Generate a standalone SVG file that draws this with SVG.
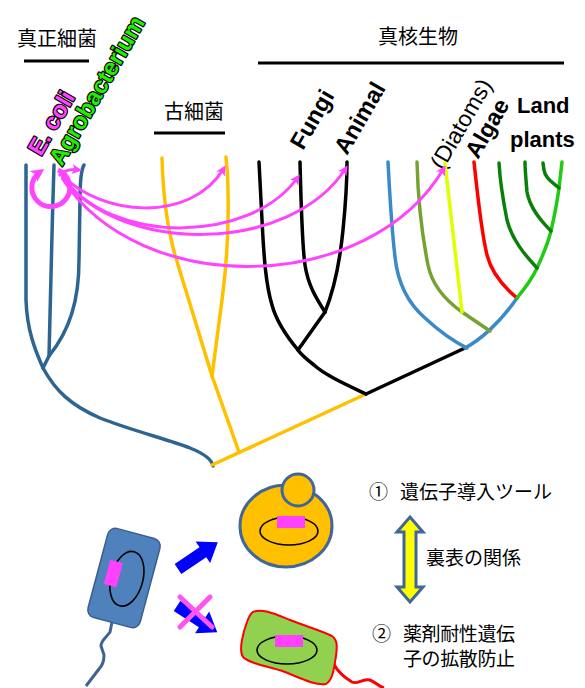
<svg xmlns="http://www.w3.org/2000/svg" width="585" height="688" viewBox="0 0 585 688">
  <style>
    .jp { font-family: "Noto Sans CJK JP", "Noto Sans", sans-serif; font-size: 19px; fill: #000; }
    .hd { font-size: 20px; }
    .lbl { font-family: "Liberation Sans", Arial, sans-serif; font-size: 22px; font-weight: bold; fill: #000; }
    .rot { font-size: 23.5px; }
    .lbln { font-family: "Liberation Sans", Arial, sans-serif; font-size: 23px; fill: #000; }
    .outl { stroke: #000; stroke-width: 2.4; paint-order: stroke; stroke-linejoin: round; }
    .br { fill: none; stroke-width: 3.5; stroke-linecap: round; stroke-linejoin: round; }
    .bact { stroke: #2C6592; }
    .arch { stroke: #FFC000; }
    .euk { stroke: #000; }
    .sar { stroke: #3A89C9; }
    .olive { stroke: #76A232; }
    .diat { stroke: #DFFF00; }
    .red { stroke: #FF0000; }
    .lgreen { stroke: #1FCB14; }
    .dgreen { stroke: #0A800A; }
    .rule { stroke: #000; stroke-width: 3; }
    .hgt { fill: none; stroke: #FF44FF; stroke-width: 3; marker-end: url(#ah); }
    .cellb { stroke: #41679A; stroke-width: 3; }
    .nuc { fill: none; stroke: #000; stroke-width: 1.6; }
    .gene { fill: #FF40FF; }
  </style>
  <defs>
    <marker id="ah" viewBox="0 0 10 10" refX="7" refY="5" markerWidth="10" markerHeight="10" markerUnits="userSpaceOnUse" orient="auto">
      <path d="M0,0 L10,5 L0,10 L2.5,5 Z" fill="#FF44FF"/>
    </marker>
    <marker id="ah2" viewBox="0 0 10 10" refX="6" refY="5" markerWidth="13" markerHeight="13" markerUnits="userSpaceOnUse" orient="auto">
      <path d="M0,0 L10,5 L0,10 L2.5,5 Z" fill="#FF44FF"/>
    </marker>
  </defs>

  <!-- group headings -->
  <g id="heading-bacteria">
    <text class="jp hd" x="17" y="46">真正細菌</text>
    <line class="rule" x1="24" y1="61" x2="89" y2="61"/>
  </g>
  <g id="heading-archaea">
    <text class="jp hd" x="164" y="119">古細菌</text>
    <line class="rule" x1="154" y1="133" x2="225" y2="133"/>
  </g>
  <g id="heading-eukaryota">
    <text class="jp hd" x="378" y="44">真核生物</text>
    <line class="rule" x1="258" y1="63" x2="564" y2="63"/>
  </g>

  <!-- tip labels -->
  <g id="label-ecoli"><text class="lbl rot outl" style="fill:#FF44FF" transform="translate(41,157) rotate(-60)">E. coli</text></g>
  <g id="label-agro"><text class="lbl rot outl" style="fill:#22EE00" transform="translate(62,167) rotate(-60)">Agrobacterium</text></g>
  <g id="label-fungi"><text class="lbl rot" transform="translate(303,151) rotate(-60)">Fungi</text></g>
  <g id="label-animal"><text class="lbl rot" transform="translate(347,156) rotate(-60)">Animal</text></g>
  <g id="label-diatoms"><text class="lbln" transform="translate(443,171) rotate(-60)">(Diatoms)</text></g>
  <g id="label-algae"><text class="lbl rot" transform="translate(478,160) rotate(-60)">Algae</text></g>
  <g id="label-landplants">
    <text class="lbl" x="517" y="113">Land</text>
    <text class="lbl" x="510" y="147">plants</text>
  </g>

  <!-- tree branches -->
  <g id="tree">
    <g id="bacteria">
      <path class="br bact" d="M26,165 L26,300 C27,330 35,350 43,368"/>
      <path class="br bact" d="M54,165 C52,230 50,300 49,356 L43,368"/>
      <path class="br bact" d="M84,165 C81,170 80,180 80,200 L79,260 C79,300 70,330 49,356"/>
      <path class="br bact" d="M43,368 C55,390 70,405 100,418 C130,430 170,440 190,448 C205,454 212,460 213,466"/>
    </g>
    <g id="archaea">
      <path class="br arch" d="M212,465 L366,394"/>
      <path class="br arch" d="M239,452 L212,376"/>
      <path class="br arch" d="M212,376 L175,255 C168,230 163,195 162,158"/>
      <path class="br arch" d="M212,376 L222,300 C226,270 229,230 228,190 C228,175 227,165 226,157"/>
    </g>
    <g id="opisthokonts">
      <path class="br euk" d="M366,394 C345,384 325,375 314,365 C305,358 300,353 298,350"/>
      <path class="br euk" d="M366,394 L465,348"/>
      <path class="br euk" d="M259,162 L262,220 C264,260 266,285 272,305 C276,320 288,338 298,350"/>
      <path class="br euk" d="M298,350 L325,312"/>
      <path class="br euk" d="M300,162 C301,200 302,245 305,265 C308,285 316,298 325,312"/>
      <path class="br euk" d="M325,312 C334,290 340,260 343,230 C345,210 347,190 347,162"/>
    </g>
    <g id="plants-and-algae">
      <path class="br sar" d="M388,162 C390,200 393,240 395,257 C398,285 410,305 425,318 C440,332 455,342 467,348"/>
      <path class="br sar" d="M465,348 C480,340 500,323 517,298"/>
      <path class="br olive" d="M490,331 L462,312"/>
      <path class="br olive" d="M462,312 C445,300 432,285 428,265 C423,240 418,200 417,162"/>
      <path class="br diat" d="M462,312 L445,163"/>
      <path class="br red" d="M517,298 C505,288 492,275 487,255 C482,235 478,200 474,162"/>
      <path class="br lgreen" d="M517,298 C526,287 533,277 537,268 C543,255 548,243 551,231 C554,218 557,203 559,188 C560,180 561,170 562,162"/>
      <path class="br dgreen" d="M537,268 C525,255 512,240 507,220 C503,200 500,180 499,163"/>
      <path class="br dgreen" d="M551,231 C540,220 530,208 527,192 C526,180 525,170 525,162"/>
      <path class="br dgreen" d="M559,188 C552,182 545,178 544,170 L543,163"/>
    </g>
  </g>

  <!-- horizontal gene transfer arrows -->
  <g id="connectors">
    <path d="M58,170 A19,19 0 1,1 40,172" fill="none" stroke="#FF44FF" stroke-width="5" marker-end="url(#ah2)"/>
    <path class="hgt" d="M59,176 Q66,168 79,170"/>
    <path class="hgt" d="M62,175 C100,215 190,225 224,168"/>
    <path class="hgt" d="M62,176 C110,245 250,245 298,177"/>
    <path class="hgt" d="M62,177 C120,255 290,255 346,168"/>
    <path class="hgt" d="M62,178 C140,300 370,295 444,168"/>
  </g>

  <!-- donor bacterium -->
  <g id="cell-bacterium">
    <path d="M112,622 L110,632 C106,638 101,640 101,646 L104,655 C104,662 102,666 99,669 L86,686" fill="none" stroke="#3F6493" stroke-width="3" stroke-linejoin="round"/>
    <g transform="translate(124,578) rotate(15)">
      <rect x="-27" y="-46" width="54" height="92" rx="8" fill="#4F81BD" stroke="#3A5F8E" stroke-width="1.5"/>
      <ellipse class="nuc" cx="3" cy="0" rx="16" ry="28"/>
      <rect class="gene" x="-18" y="-14" width="13" height="25"/>
    </g>
  </g>

  <!-- transfer arrows -->
  <g id="arrow-ok">
    <polygon points="0,-6 30,-6 30,-13 48,0 30,13 30,6 0,6" fill="#0000FF" transform="translate(178,569) rotate(-34)"/>
  </g>
  <g id="arrow-blocked">
    <polygon points="0,-6 30,-6 30,-13 48,0 30,13 30,6 0,6" fill="#0000FF" transform="translate(177,606) rotate(33)"/>
    <path d="M180,597 L212,627 M210,597 L180,627" stroke="#FF55EE" stroke-width="5" stroke-linecap="round"/>
  </g>

  <!-- yeast-like recipient -->
  <g id="cell-yeast">
    <ellipse class="cellb" cx="286" cy="526" rx="46" ry="41" fill="#FFC000"/>
    <circle class="cellb" cx="298" cy="490" r="16" fill="#FFC000"/>
    <ellipse class="nuc" cx="289" cy="531" rx="29" ry="14"/>
    <rect class="gene" x="277" y="516" width="28" height="12"/>
  </g>

  <!-- plant-like recipient -->
  <g id="cell-plant">
    <path d="M333,663 C338,672 345,678 352,682 C358,685 362,678 370,680 C375,682 378,686 384,688" fill="none" stroke="#FF0000" stroke-width="3"/>
    <path d="M253,612 C262,608 275,614 290,620 C305,626 320,630 332,636 C338,640 337,648 336,656 C334,668 333,680 326,684 C316,686 300,678 285,672 C268,666 250,664 243,657 C238,650 244,630 247,622 C249,616 250,614 253,612 Z" fill="#92D050" stroke="#FF0000" stroke-width="2"/>
    <ellipse class="nuc" cx="287" cy="650" rx="30" ry="14"/>
    <rect class="gene" x="275" y="635" width="28" height="12"/>
  </g>

  <!-- legend -->
  <g id="note-1">
    <text class="jp" x="369" y="499">①</text>
    <text class="jp" x="400" y="499">遺伝子導入ツール</text>
  </g>
  <g id="double-arrow">
    <polygon points="410,517 423,532 416,532 416,587 423,587 410,602 397,587 404,587 404,532 397,532" fill="#FFFF00" stroke="#41679A" stroke-width="3" stroke-linejoin="miter"/>
  </g>
  <g id="note-relation">
    <text class="jp" x="426" y="565">裏表の関係</text>
  </g>
  <g id="note-2">
    <text class="jp" x="372" y="641">②</text>
    <text class="jp" x="403" y="641" textLength="112">薬剤耐性遺伝</text>
    <text class="jp" x="403" y="666" textLength="112">子の拡散防止</text>
  </g>
</svg>
